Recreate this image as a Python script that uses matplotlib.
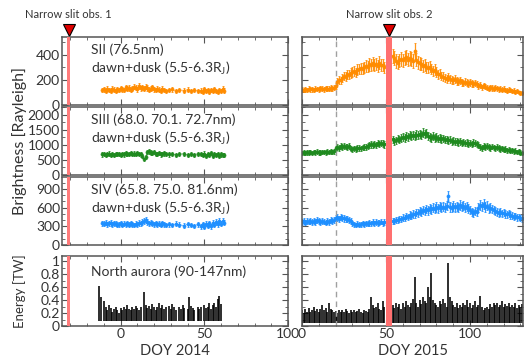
import numpy as np
import matplotlib
matplotlib.use('Agg')
import matplotlib.pyplot as plt
from matplotlib.ticker import MultipleLocator, FuncFormatter

plt.rcParams['font.family'] = ['Lato', 'DejaVu Sans']
plt.rcParams['mathtext.fontset'] = 'dejavusans'

# ---- DOY 2014 (left column) ----
l_doy = list(range(-11, 28)) + [29, 31, 33, 35, 38, 40, 42, 44, 46] + list(range(48, 63))
l_s2 = [118, 125, 112, 130, 120, 115, 128, 122, 110, 126,
        120, 132, 125, 118, 140, 128, 135, 122, 130, 145,
        138, 125, 150, 132, 140, 128, 145, 135, 122, 130,
        140, 125, 118, 130, 122, 115, 128, 120, 112,
        118, 125, 110, 120, 115, 122, 108, 118, 112,
        115, 105, 125, 110, 120, 100, 118, 108, 125, 112, 102, 120, 110, 128, 115]
l_s3 = [680, 700, 665, 690, 710, 675, 695, 660, 685, 700,
        690, 670, 705, 680, 715, 690, 700, 720, 685, 710,
        695, 730, 700, 680, 640, 520, 600, 760, 790, 740,
        720, 760, 700, 690, 730, 680, 700, 715, 690,
        680, 700, 670, 690, 705, 660, 690, 675, 700,
        690, 660, 710, 640, 700, 650, 720, 630, 690, 660, 700, 640, 680, 650, 670]
l_s4 = [350, 340, 360, 335, 345, 355, 330, 350, 340, 325,
        335, 345, 320, 340, 330, 350, 325, 345, 335, 320,
        340, 330, 355, 345, 365, 380, 395, 370, 350, 360,
        345, 335, 350, 330, 340, 325, 345, 335, 320,
        330, 320, 340, 325, 310, 335, 320, 305, 330,
        300, 330, 290, 340, 310, 350, 300, 360, 320, 370, 330, 380, 340, 390, 360]

l_au_doy = ([-13, -12] + list(range(-10, 13)) + list(range(14, 28)) + list(range(29, 34))
            + list(range(35, 39)) + list(range(40, 45)) + list(range(46, 49)) + list(range(50, 61)))
l_au = [0.62, 0.45,
        0.38, 0.30, 0.25, 0.33, 0.28, 0.22, 0.26, 0.30, 0.24, 0.20,
        0.28, 0.25, 0.30, 0.26, 0.32, 0.27, 0.24, 0.29, 0.26, 0.31, 0.28, 0.25, 0.30,
        0.52, 0.33, 0.28, 0.31, 0.26, 0.34, 0.29, 0.25, 0.30, 0.36, 0.28, 0.32, 0.27, 0.30,
        0.31, 0.27, 0.34, 0.29, 0.25,
        0.30, 0.26, 0.33, 0.28,
        0.27, 0.45, 0.31, 0.28, 0.25,
        0.30, 0.26, 0.29,
        0.33, 0.28, 0.30, 0.35, 0.27, 0.32, 0.36, 0.30, 0.42, 0.47, 0.34]

# ---- DOY 2015 (right column) ----
r_doy = list(range(0, 50)) + list(range(54, 132))
r_s2 = [122, 118, 125, 120, 128, 124, 126, 120, 130, 127,
        125, 132, 128, 126, 134, 130, 128, 135, 132, 138,
        150, 185, 200, 195, 215, 230, 225, 245, 240, 255,
        262, 270, 258, 280, 285, 292, 288, 300, 310, 305,
        322, 315, 330, 318, 325, 310, 335, 320, 315, 298,
        390, 370, 350, 335, 355, 365, 355, 370, 380, 360,
        375, 365, 350, 430, 360, 340, 330, 325, 310, 320,
        300, 295, 305, 285, 270, 280, 260, 245, 250, 230,
        225, 215, 210, 220, 205, 200, 195, 205, 190, 185,
        195, 180, 175, 185, 178, 170, 180, 172, 165, 175,
        168, 150, 160, 140, 155, 145, 138, 130, 140, 135,
        128, 138, 132, 125, 130, 122, 128, 120, 115, 122,
        118, 110, 115, 105, 112, 100, 98, 95]
r_s3 = [730, 745, 720, 750, 740, 760, 735, 755, 745, 770,
        750, 740, 765, 755, 745, 770, 760, 780, 765, 790,
        880, 920, 900, 950, 930, 965, 940, 920, 950, 870,
        850, 880, 860, 895, 900, 880, 915, 930, 920, 970,
        990, 1010, 980, 1030, 1000, 1050, 1020, 1060, 1040, 1010,
        1180, 1120, 1150, 1200, 1160, 1230, 1250, 1220, 1290, 1260,
        1310, 1280, 1320, 1300, 1340, 1310, 1360, 1330, 1400, 1350,
        1380, 1300, 1260, 1230, 1280, 1220, 1250, 1200, 1230, 1190,
        1210, 1170, 1180, 1150, 1160, 1120, 1130, 1100, 1120, 1080,
        1110, 1060, 1090, 1050, 1070, 1040, 1060, 1030, 1070, 1050,
        1020, 980, 930, 900, 950, 920, 960, 930, 900, 940,
        910, 880, 920, 890, 860, 880, 840, 860, 820, 840,
        800, 820, 780, 800, 760, 780, 740, 720]
r_s4 = [370, 385, 360, 380, 375, 390, 365, 385, 370, 395,
        380, 365, 390, 375, 360, 385, 370, 395, 380, 400,
        430, 445, 420, 450, 435, 425, 410, 420, 400, 380,
        345, 330, 320, 340, 325, 335, 345, 330, 350, 340,
        355, 345, 365, 350, 370, 355, 360, 375, 350, 365,
        390, 380, 405, 395, 420, 410, 440, 430, 465, 450,
        480, 470, 500, 490, 520, 510, 545, 530, 560, 540,
        575, 555, 590, 570, 600, 580, 610, 590, 620, 595,
        615, 600, 630, 780, 610, 600, 625, 605, 620, 600,
        640, 615, 630, 600, 620, 590, 560, 530, 515, 540,
        525, 600, 640, 620, 655, 610, 630, 590, 600, 575,
        560, 540, 525, 510, 530, 505, 520, 500, 490, 505,
        480, 470, 455, 465, 445, 450, 430, 425]
r_au = [0.24, 0.20, 0.26, 0.22, 0.28, 0.21, 0.25, 0.30, 0.23, 0.27,
        0.22, 0.26, 0.33, 0.24, 0.28, 0.22, 0.35, 0.26, 0.24, 0.21,
        0.23, 0.20, 0.25, 0.22, 0.24, 0.21, 0.26, 0.23, 0.20, 0.25,
        0.22, 0.24, 0.21, 0.23, 0.26, 0.22, 0.20, 0.24, 0.23, 0.21,
        0.27, 0.45, 0.32, 0.28, 0.30, 0.36, 0.26, 0.24, 0.38, 0.30,
        0.32, 0.28, 0.36, 0.30, 0.34, 0.27, 0.35, 0.30, 0.38, 0.33,
        0.29, 0.36, 0.42, 0.76, 0.35, 0.30, 0.40, 0.34, 0.45, 0.38,
        0.36, 0.60, 0.44, 0.82, 0.40, 0.35, 0.32, 0.30, 0.38, 0.34,
        0.42, 0.36, 0.30, 0.97, 0.45, 0.38, 0.33, 0.30, 0.35, 0.28,
        0.32, 0.30, 0.36, 0.33, 0.40, 0.30, 0.35, 0.28, 0.32, 0.38,
        0.30, 0.33, 0.46, 0.29, 0.24, 0.28, 0.30, 0.26, 0.34, 0.30,
        0.36, 0.32, 0.35, 0.29, 0.33, 0.38, 0.30, 0.34, 0.31, 0.36,
        0.29, 0.33, 0.30, 0.35, 0.28, 0.32, 0.30, 0.34]

labels = ['SII (76.5nm)\ndawn+dusk (5.5-6.3R$_\\mathregular{J}$)',
          'SIII (68.0. 70.1. 72.7nm)\ndawn+dusk (5.5-6.3R$_\\mathregular{J}$)',
          'SIV (65.8. 75.0. 81.6nm)\ndawn+dusk (5.5-6.3R$_\\mathregular{J}$)',
          'North aurora (90-147nm)']
colors = ['#ff8c00', '#1f8a1f', '#1e8fff']
rel_err = [0.15, 0.1, 0.12]

W, H = 525, 358
fig = plt.figure(figsize=(W / 100, H / 100), dpi=100)

def box(x0, x1, y0, y1):
    return [x0 / W, 1 - y1 / H, (x1 - x0) / W, (y1 - y0) / H]

rows = [(37, 105), (107, 175), (177, 245), (256, 326)]
ylims = [(0, 540), (0, 2250), (0, 1090), (0, 1.08)]
ymaj = [200, 500, 300, 0.2]
ymin = [100, 250, 100, 0.1]
fmt = FuncFormatter(lambda v, p: '%g' % v)
gray = '#555555'
txtc = '#333333'

axes = []
for r, (y0, y1) in enumerate(rows):
    pair = []
    for c, (x0, x1) in enumerate([(62, 288), (302, 523)]):
        ax = fig.add_axes(box(x0, x1, y0, y1))
        ax.set_xlim((-35, 100) if c == 0 else (0, 131.5))
        ax.set_ylim(ylims[r])
        ax.xaxis.set_major_locator(MultipleLocator(50))
        ax.xaxis.set_minor_locator(MultipleLocator(10))
        ax.yaxis.set_major_locator(MultipleLocator(ymaj[r]))
        ax.yaxis.set_minor_locator(MultipleLocator(ymin[r]))
        ax.yaxis.set_major_formatter(fmt)
        ax.tick_params(which='both', direction='in', top=True, right=True,
                       color=gray, labelsize=10, labelcolor=txtc, pad=1.5)
        ax.tick_params(which='major', length=4)
        ax.tick_params(which='minor', length=2)
        for s in ax.spines.values():
            s.set_color(gray)
            s.set_linewidth(1.1)
        if c == 1:
            ax.tick_params(labelleft=False)
        if r < 3:
            ax.tick_params(labelbottom=False)
        pair.append(ax)
    axes.append(pair)

# brightness panels
for r, (ly, ry) in enumerate([(l_s2, r_s2), (l_s3, r_s3), (l_s4, r_s4)]):
    col = colors[r]
    for ax, x, y in [(axes[r][0], l_doy, ly), (axes[r][1], r_doy, ry)]:
        y = np.array(y, dtype=float)
        ax.plot(x, y, '-', color=col, lw=0.6, alpha=0.7)
        ax.errorbar(x, y, yerr=rel_err[r] * y, fmt='.', ms=3.5, color=col, ecolor=col,
                    elinewidth=0.9, capsize=1, capthick=0.6, alpha=0.9)

# aurora
for ax, x, hi, lo in [(axes[3][0], l_au_doy, l_au, 0.07), (axes[3][1], r_doy, r_au, 0.05)]:
    ax.vlines(x, lo, hi, color='k', lw=1.15)

# narrow slit bands and dashed line
for r in range(4):
    axes[r][0].axvspan(-32, -30, color='#ff7b7b', zorder=5, lw=0)
    axes[r][1].axvspan(50, 53.5, color='#ff7070', zorder=5, lw=0)
    axes[r][1].axvline(20, color='#a0a0a0', ls=(0, (4, 3)), lw=1)

for r in range(4):
    axes[r][0].text(0.128, 0.9 if r < 3 else 0.86, labels[r], transform=axes[r][0].transAxes,
                    ha='left', va='top', fontsize=10, color=txtc, linespacing=1.25)

for ax, x, txt in [(axes[0][0], -31, 'Narrow slit obs. 1'), (axes[0][1], 52, 'Narrow slit obs. 2')]:
    ax.plot([x], [1.1], marker='v', ms=8, color='#e00000', mec='k', mew=0.8,
            transform=ax.get_xaxis_transform(), clip_on=False)
    ax.text(x, 1.33, txt, transform=ax.get_xaxis_transform(), ha='center', va='center',
            fontsize=8, color=txtc)

axes[3][0].set_xlabel('DOY 2014', fontsize=10.5, color=txtc, labelpad=3)
axes[3][1].set_xlabel('DOY 2015', fontsize=10.5, color=txtc, labelpad=3)

fig.text(0.038, 1 - 141 / H, 'Brightness [Rayleigh]', rotation=90, ha='center', va='center',
         fontsize=11.5, color=txtc)
fig.text(0.038, 1 - 291 / H, 'Energy [TW]', rotation=90, ha='center', va='center',
         fontsize=9.5, color=txtc)

fig.savefig('out.png', dpi=100)
